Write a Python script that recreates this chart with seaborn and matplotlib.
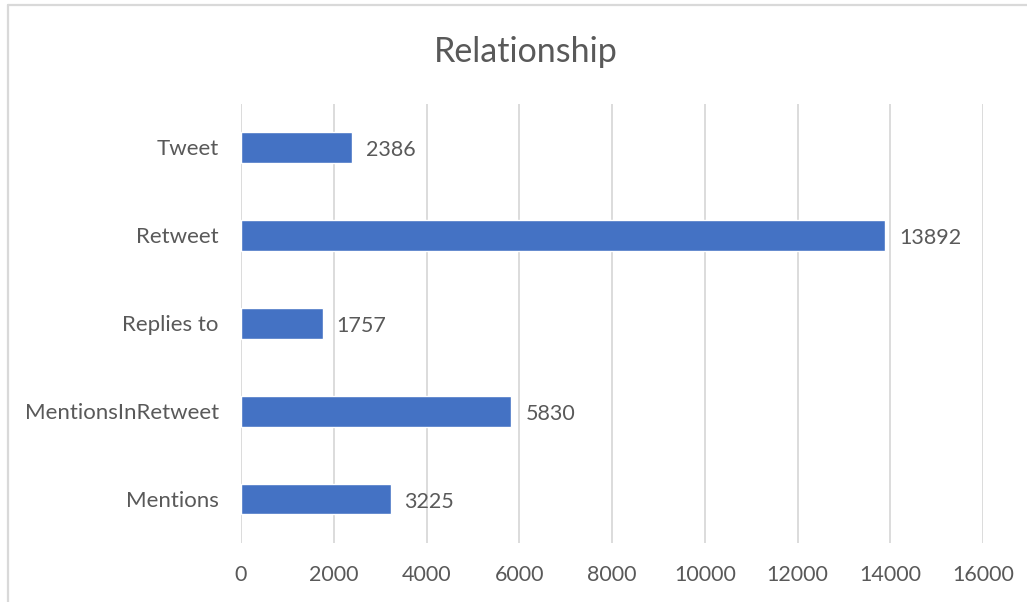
import matplotlib
matplotlib.use("Agg")
import matplotlib.pyplot as plt
from matplotlib.lines import Line2D
import seaborn as sns
import pandas as pd

# data
categories = ["Tweet", "Retweet", "Replies to", "MentionsInRetweet", "Mentions"]
counts = [2386, 13892, 1757, 5830, 3225]
x_ticks = [0, 2000, 4000, 6000, 8000, 10000, 12000, 14000, 16000]

BAR = "#4472C4"
TXT = "#595959"
GRID = "#D9D9D9"

sns.set_theme(style="white")
plt.rcParams["font.family"] = ["Lato", "DejaVu Sans"]

df = pd.DataFrame({"relationship": categories, "count": counts})

fig = plt.figure(figsize=(10.27, 6.02), dpi=100)
ax = fig.add_axes([0.2347, 0.0980, 0.7225, 0.730])

sns.barplot(data=df, x="count", y="relationship", order=categories,
            color=BAR, saturation=1, width=0.35, ax=ax)

for i, v in enumerate(counts):
    ax.text(v + 300, i + 0.03, str(v), va="center", ha="left", fontsize=15.5, color=TXT)

ax.set_xlim(0, 16000)
ax.set_ylim(len(categories) - 0.5, -0.5)
ax.set_xticks(x_ticks)
ax.set_xticklabels([str(t) for t in x_ticks])
ax.xaxis.grid(True, color=GRID, linewidth=1.3)
ax.set_axisbelow(True)
for s in ax.spines.values():
    s.set_visible(False)
ax.tick_params(axis="both", length=0, labelcolor=TXT)
ax.tick_params(axis="x", pad=16, labelsize=15.5)
ax.tick_params(axis="y", pad=16, labelsize=16)
ax.set_xlabel("")
ax.set_ylabel("")

fig.text(0.512, 0.913, "Relationship", ha="center", va="center",
         fontsize=24.5, color=TXT)

# spreadsheet chart frame: only top and left edges are in the crop
fig.lines.append(Line2D([0.008, 0.008], [0.0, 0.992], transform=fig.transFigure,
                        color=GRID, linewidth=1.6))
fig.lines.append(Line2D([0.008, 1.0], [0.992, 0.992], transform=fig.transFigure,
                        color=GRID, linewidth=1.6))

fig.savefig("out.png", dpi=100)
